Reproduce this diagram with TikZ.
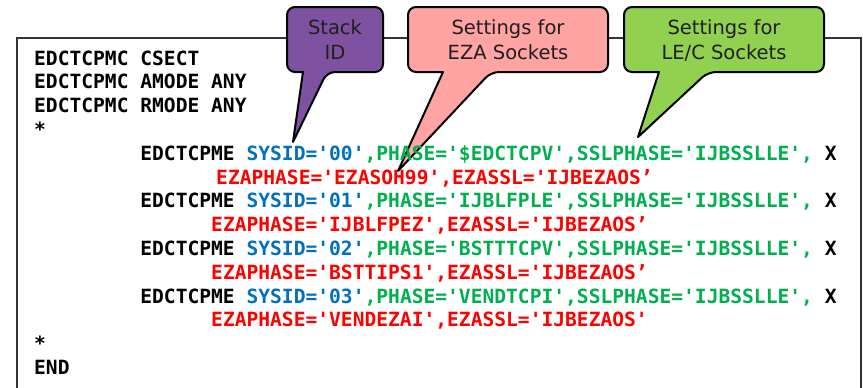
\documentclass[tikz,border=0pt]{standalone}
\usepackage{fontspec}
\setmonofont{DejaVu Sans Mono}
\newfontfamily\bubblefont{DejaVu Sans}
\definecolor{sysblue}{HTML}{0070C0}
\definecolor{phasegreen}{HTML}{00B050}
\definecolor{ezared}{HTML}{FF0000}
\definecolor{stackpurple}{HTML}{7E52A0}
\definecolor{ezapink}{HTML}{FFA3A3}
\definecolor{lecgreen}{HTML}{92D050}
\tikzset{
	codeline/.style={anchor=base west, inner sep=0pt, font=\fontsize{19.6}{23.8}\selectfont\ttfamily\bfseries},
	bubble/.style={draw=black, line width=2pt, line join=round},
	bubbletext/.style={align=center, inner sep=0pt, text=black!88, font=\fontsize{19.5}{25}\selectfont\bubblefont},
}
% colour, left, right, pointer base left, pointer base right, tip
\newcommand\bubble[6]{%
	\draw[bubble, fill=#1] (#4,72) [rounded corners=8pt] -- (#2,72) -- (#2,7) -- (#3,7) -- (#3,72) -- (#5,72) [sharp corners] -- (#6) -- cycle;}
\begin{document}
\begin{tikzpicture}[x=1pt,y=-1pt]
			\useasboundingbox (0,0) rectangle (863,388);
			\draw[line width=1.2pt, black!80] (17,400) |- (861,38) -- (861,400);
			\coordinate (sysid) at (293,142);
			\coordinate (ezaphase) at (398,171);
			\coordinate (sslphase) at (638,137);
			\bubble{stackpurple}{287}{383}{303}{327}{sysid}
			\bubble{ezapink}{408}{608}{443}{491}{ezaphase}
			\bubble{lecgreen}{624}{824}{659}{708}{sslphase}
			\node[bubbletext] (stack) at (335,40) {Stack\\ID};
			\node[bubbletext] (eza) at (508,40) {Settings for\\EZA Sockets};
			\node[bubbletext] (lec) at (724,40) {Settings for\\LE/C Sockets};
			\node[codeline] (csect) at (34,65) {EDCTCPMC CSECT};
			\node[codeline] (amode) at (34,88.8) {EDCTCPMC AMODE ANY};
			\node[codeline] (rmode) at (34,112.6) {EDCTCPMC RMODE ANY};
			\node[codeline] (startstar) at (34,136.4) {*};
			\foreach \id/\phase/\eza/\q/\dx [count=\i from 0] in {00/\$EDCTCPV/EZASOH99/’/5, 01/IJBLFPLE/IJBLFPEZ/’/0, 02/BSTTTCPV/BSTTIPS1/’/0, 03/VENDTCPI/VENDEZAI/'/0} {
				\node[codeline] (row\id) at (140.2, {65+23.8*(4+2*\i)}) {EDCTCPME \textcolor{sysblue}{SYSID='\id'}\textcolor{phasegreen}{,PHASE='\phase',SSLPHASE='IJBSSLLE',} X};
				\node[codeline, text=ezared] (eza\id) at ({211+\dx}, {65+23.8*(5+2*\i)}) {EZAPHASE='\eza',EZASSL='IJBEZAOS\q};
			};
			\node[codeline] (endstar) at (34,350.6) {*};
			\node[codeline] (end) at (34,374.4) {END};
		\end{tikzpicture}
\end{document}
